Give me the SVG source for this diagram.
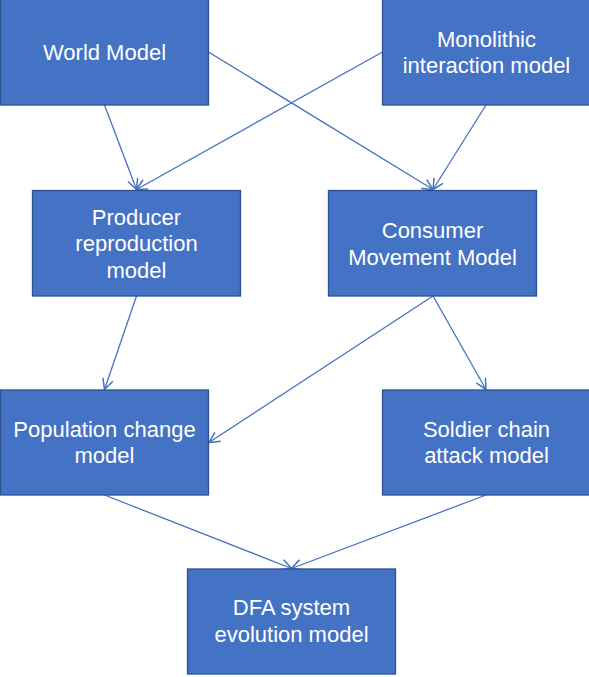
<svg xmlns="http://www.w3.org/2000/svg" width="589" height="677" viewBox="0 0 589 677">
<style>
.box{fill:#4472C4;stroke:#2F528F;stroke-width:1.3}
.lbl{fill:#FFFFFF;font-family:"Liberation Sans",Arial,sans-serif;font-size:22px;text-anchor:middle}
.con{fill:none;stroke:#4472C4;stroke-width:1.3;marker-end:url(#arr)}
</style>
<defs>
<marker id="arr" markerUnits="userSpaceOnUse" markerWidth="14" markerHeight="14" viewBox="-1 -1 12 12" refX="9" refY="5" orient="auto">
<path d="M0,0.5 L9,5 L0,9.5" fill="none" stroke="#4472C4" stroke-width="1.3"/>
</marker>
</defs>
<rect width="589" height="677" fill="#FFFFFF"/>
<g id="connectors">
<line class="con" x1="208.5" y1="52" x2="433" y2="189.5"/>
<line class="con" x1="104.5" y1="105" x2="136.5" y2="189.5"/>
<line class="con" x1="382.5" y1="52" x2="136.5" y2="189.5"/>
<line class="con" x1="486" y1="105" x2="433" y2="189.5"/>
<line class="con" x1="136.5" y1="296" x2="104.5" y2="389.5"/>
<line class="con" x1="433" y1="296" x2="209" y2="442.5"/>
<line class="con" x1="433" y1="296" x2="486" y2="389.5"/>
<line class="con" x1="104.5" y1="495" x2="291.5" y2="568.5"/>
<line class="con" x1="486" y1="495" x2="291.5" y2="568.5"/>
</g>
<g id="world-model">
<rect class="box" x="0.5" y="-1" width="208" height="106"/>
<text class="lbl" x="104.5" y="60">World Model</text>
</g>
<g id="monolithic-interaction-model">
<rect class="box" x="382.5" y="-1" width="208" height="106"/>
<text class="lbl" x="486.5" y="46.5">Monolithic</text>
<text class="lbl" x="486.5" y="73.3">interaction model</text>
</g>
<g id="producer-reproduction-model">
<rect class="box" x="32.5" y="190.5" width="208" height="105.5"/>
<text class="lbl" x="136.5" y="224.5">Producer</text>
<text class="lbl" x="136.5" y="251.3">reproduction</text>
<text class="lbl" x="136.5" y="278">model</text>
</g>
<g id="consumer-movement-model">
<rect class="box" x="328.5" y="190.5" width="208" height="105.5"/>
<text class="lbl" x="432.5" y="238">Consumer</text>
<text class="lbl" x="432.5" y="264.8">Movement Model</text>
</g>
<g id="population-change-model">
<rect class="box" x="0.5" y="390" width="208" height="105"/>
<text class="lbl" x="104.5" y="436.5">Population change</text>
<text class="lbl" x="104.5" y="463.3">model</text>
</g>
<g id="soldier-chain-attack-model">
<rect class="box" x="382.5" y="390" width="208" height="105"/>
<text class="lbl" x="486.5" y="436.5">Soldier chain</text>
<text class="lbl" x="486.5" y="463.3">attack model</text>
</g>
<g id="dfa-system-evolution-model">
<rect class="box" x="187.5" y="569" width="208" height="105"/>
<text class="lbl" x="291.5" y="615">DFA system</text>
<text class="lbl" x="291.5" y="641.7">evolution model</text>
</g>
</svg>
